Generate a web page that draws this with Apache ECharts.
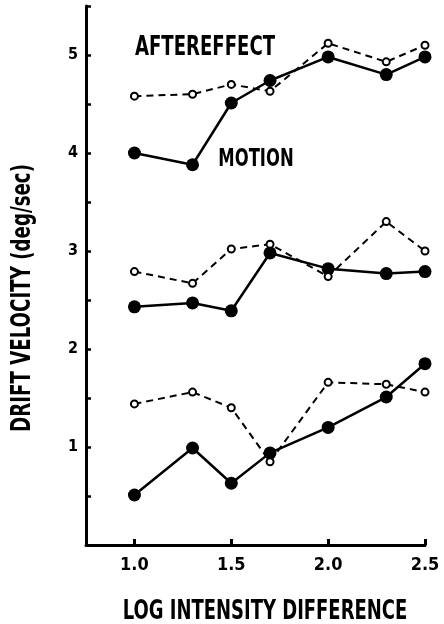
<!DOCTYPE html>
<html><head><meta charset="utf-8">
<script src="https://cdn.jsdelivr.net/npm/echarts@6/dist/echarts.min.js"></script>
<style>html,body{margin:0;padding:0;background:#fff}#c{width:444px;height:624px}</style>
</head><body><div id="c"></div>
<script>
var xValues = [1.0, 1.3, 1.5, 1.7, 2.0, 2.3, 2.5];
var motionTop = [4.00, 3.88, 4.51, 4.74, 4.98, 4.80, 4.98];
var afterTop  = [4.58, 4.60, 4.70, 4.63, 5.12, 4.93, 5.10];
var motionMid = [2.43, 2.47, 2.39, 2.98, 2.82, 2.77, 2.79];
var afterMid  = [2.79, 2.67, 3.02, 3.07, 2.74, 3.30, 3.00];
var motionLow = [0.51, 0.99, 0.63, 0.94, 1.20, 1.51, 1.85];
var afterLow  = [1.44, 1.56, 1.40, 0.85, 1.66, 1.64, 1.56];
var xTicks = [1.0, 1.5, 2.0, 2.5];
var yLabels = [1, 2, 3, 4, 5];
var labelAfter = 'AFTEREFFECT';
var labelMotion = 'MOTION';
var xName = 'LOG INTENSITY DIFFERENCE';
var yName = 'DRIFT VELOCITY (deg/sec)';

var FONT = '"DejaVu Sans Condensed", "DejaVu Sans", sans-serif';
function pairs(ys){ return xValues.map(function(x,i){ return [x, ys[i]]; }); }
function motion(ys){
  return {type:'line', data:pairs(ys), symbol:'circle', symbolSize:13, z:3,
    lineStyle:{color:'#000', width:2.5}, itemStyle:{color:'#000'}, animation:false};
}
function after(ys){
  return {type:'line', data:pairs(ys), symbol:'circle', symbolSize:7, z:4,
    lineStyle:{color:'#000', width:2, type:[7,5]},
    itemStyle:{color:'#fff', borderColor:'#000', borderWidth:2}, animation:false};
}
function label(text, x, y, size, sx, rot){
  return {type:'text', x:x, y:y, rotation:rot||0, scaleX:sx, z:10,
    style:{text:text, x:0, y:0, align:'center', verticalAlign:'middle',
      fill:'#000', font:'bold '+size+'px '+FONT}};
}
var chart = echarts.init(document.getElementById('c'));
chart.setOption({
  backgroundColor:'#fff',
  animation:false,
  grid:{left:86, right:19, top:6, bottom:79},
  xAxis:{type:'value', min:0.75, max:2.5,
    axisLine:{lineStyle:{color:'#000', width:3}},
    axisTick:{inside:true, length:6, customValues:xTicks, lineStyle:{color:'#000', width:3}},
    axisLabel:{customValues:xTicks, formatter:function(v){return v.toFixed(1);},
      color:'#000', fontFamily:FONT, fontWeight:'bold', fontSize:18, margin:11},
    splitLine:{show:false}
  },
  yAxis:{type:'value', min:0, max:5.5, interval:0.5,
    axisLine:{show:true, lineStyle:{color:'#000', width:3}},
    axisTick:{show:true, inside:true, length:5, lineStyle:{color:'#000', width:2.5}},
    axisLabel:{customValues:yLabels, color:'#000', fontFamily:FONT, fontWeight:'bold', fontSize:16, margin:8},
    splitLine:{show:false}
  },
  series:[motion(motionTop), after(afterTop), motion(motionMid), after(afterMid), motion(motionLow), after(afterLow)],
  graphic:[
    label(labelAfter, 205, 48, 27, 0.745),
    label(labelMotion, 256, 159, 25, 0.73),
    label(xName, 265, 612, 27, 0.74),
    label(yName, 23, 298, 27, 0.75, Math.PI/2)
  ]
});
</script></body></html>
